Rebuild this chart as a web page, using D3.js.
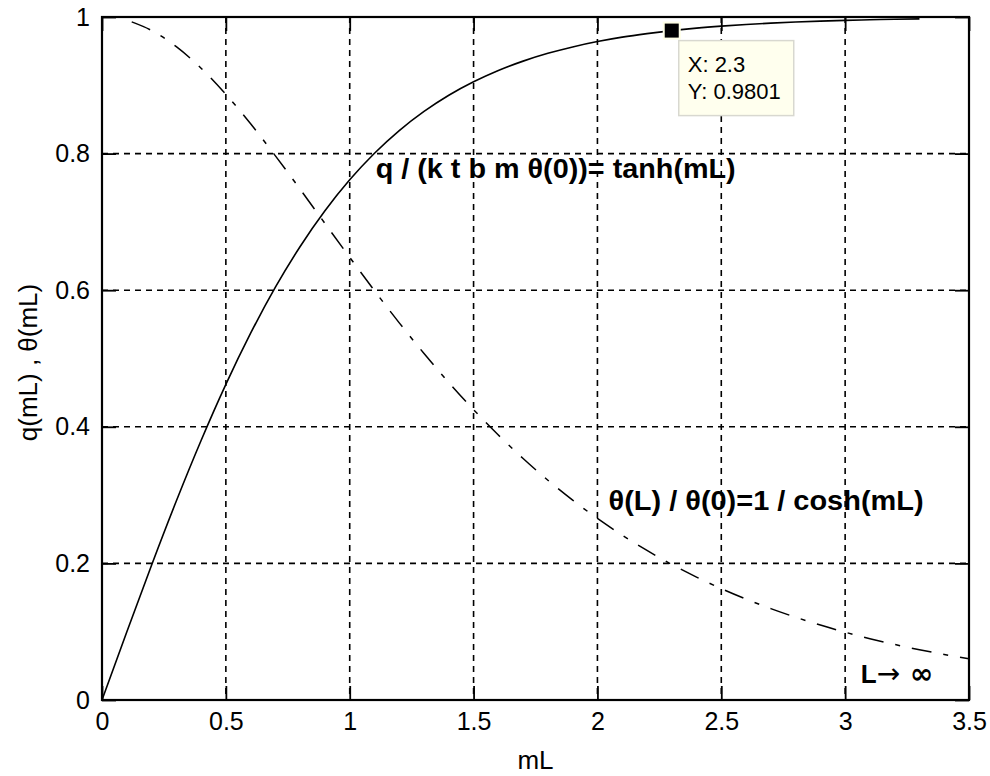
<!DOCTYPE html>
<html>
<head>
<meta charset="utf-8">
<script src="https://cdn.jsdelivr.net/npm/d3@7"></script>
<style>
  body { margin: 0; background: #fff; }
  text { font-family: "Liberation Sans", Arial, sans-serif; fill: #000; }
</style>
</head>
<body>
<script>
// values
var tanhX = [0, 0.1, 0.2, 0.3, 0.4, 0.5, 0.6, 0.7, 0.8, 0.9, 1.0, 1.1, 1.2, 1.3, 1.4, 1.5, 1.6,
    1.7, 1.8, 1.9, 2.0, 2.1, 2.2, 2.3, 2.4, 2.5, 2.6, 2.7, 2.8, 2.9, 3.0, 3.1, 3.2, 3.3];
var tanhY = [0, 0.0997, 0.1974, 0.2913, 0.3799, 0.4621, 0.5370, 0.6044, 0.6640, 0.7163, 0.7616,
    0.8005, 0.8337, 0.8617, 0.8854, 0.9051, 0.9217, 0.9354, 0.9468, 0.9562, 0.9640, 0.9705,
    0.9757, 0.9801, 0.9837, 0.9866, 0.9890, 0.9910, 0.9926, 0.9940, 0.9951, 0.9959, 0.9967, 0.9973];

var sechX = [0.12, 0.2, 0.3, 0.4, 0.5, 0.6, 0.7, 0.8, 0.9, 1.0, 1.1, 1.2, 1.3, 1.4, 1.5, 1.6, 1.7,
    1.8, 1.9, 2.0, 2.1, 2.2, 2.3, 2.4, 2.5, 2.6, 2.7, 2.8, 2.9, 3.0, 3.1, 3.2, 3.3, 3.4, 3.5];
var sechY = [0.9928, 0.9803, 0.9566, 0.9250, 0.8868, 0.8436, 0.7967, 0.7477, 0.6978, 0.6481,
    0.5993, 0.5522, 0.5073, 0.4649, 0.4251, 0.3880, 0.3536, 0.3218, 0.2926, 0.2658, 0.2413,
    0.2190, 0.1985, 0.1800, 0.1631, 0.1477, 0.1338, 0.1212, 0.1097, 0.0993, 0.0898, 0.0813,
    0.0736, 0.0666, 0.0603];

var xTicks = [0, 0.5, 1, 1.5, 2, 2.5, 3, 3.5];
var yTicks = [0, 0.2, 0.4, 0.6, 0.8, 1];

var dataTip = { x: 2.3, y: 0.9801 };

var width = 990, height = 776;
var margin = { left: 102, right: 21, top: 17, bottom: 76 };

var svg = d3.select("body").append("svg")
    .attr("width", width)
    .attr("height", height);

var x = d3.scaleLinear()
    .domain([0, 3.5])
    .range([margin.left, width - margin.right]);

var y = d3.scaleLinear()
    .domain([0, 1])
    .range([height - margin.bottom, margin.top]);

var x0 = x.range()[0], x1 = x.range()[1];
var y0 = y.range()[0], y1 = y.range()[1];

// grid (dashed, black)
var grid = svg.append("g").attr("class", "grid");
grid.selectAll(".gx")
    .data(xTicks.slice(1, -1))
    .enter().append("line")
    .attr("x1", function(d) { return x(d); })
    .attr("x2", function(d) { return x(d); })
    .attr("y1", y1).attr("y2", y0)
    .attr("stroke", "#000")
    .attr("stroke-width", 1.6)
    .attr("stroke-dasharray", "6,5");
grid.selectAll(".gy")
    .data(yTicks.slice(1, -1))
    .enter().append("line")
    .attr("y1", function(d) { return y(d); })
    .attr("y2", function(d) { return y(d); })
    .attr("x1", x0).attr("x2", x1)
    .attr("stroke", "#000")
    .attr("stroke-width", 1.6)
    .attr("stroke-dasharray", "6,5");

// curves
var line = d3.line()
    .x(function(d) { return x(d[0]); })
    .y(function(d) { return y(d[1]); })
    .curve(d3.curveMonotoneX);

svg.append("path")
    .datum(d3.zip(sechX, sechY))
    .attr("d", line)
    .attr("fill", "none")
    .attr("stroke", "#000")
    .attr("stroke-width", 1.5)
    .attr("stroke-dasharray", "20,12,5,12");

svg.append("path")
    .datum(d3.zip(tanhX, tanhY))
    .attr("d", line)
    .attr("fill", "none")
    .attr("stroke", "#000")
    .attr("stroke-width", 1.6);

// axes, MATLAB style: ticks inward on all four sides
var tickLen = 14;
var fontSize = 25;

var xAxisB = d3.axisBottom(x).tickValues(xTicks).tickSizeInner(-tickLen).tickSizeOuter(0).tickPadding(12)
    .tickFormat(d3.format("~g"));
var xAxisT = d3.axisTop(x).tickValues(xTicks).tickSizeInner(-tickLen).tickSizeOuter(0).tickFormat("");
var yAxisL = d3.axisLeft(y).tickValues(yTicks).tickSizeInner(-tickLen).tickSizeOuter(0).tickPadding(12)
    .tickFormat(d3.format("~g"));
var yAxisR = d3.axisRight(y).tickValues(yTicks).tickSizeInner(-tickLen).tickSizeOuter(0).tickFormat("");

function styleAxis(g) {
    g.select(".domain").remove();
    g.selectAll(".tick line").attr("stroke", "#000").attr("stroke-width", 1.8);
    g.selectAll(".tick text")
        .style("font-family", "'Liberation Sans', Arial, sans-serif")
        .style("font-size", fontSize + "px")
        .attr("fill", "#000");
}

svg.append("g").attr("transform", "translate(0," + y0 + ")").call(xAxisB).call(styleAxis);
svg.append("g").attr("transform", "translate(0," + y1 + ")").call(xAxisT).call(styleAxis);
svg.append("g").attr("transform", "translate(" + x0 + ",0)").call(yAxisL).call(styleAxis);
svg.append("g").attr("transform", "translate(" + x1 + ",0)").call(yAxisR).call(styleAxis);

// box
svg.append("rect")
    .attr("x", x0).attr("y", y1)
    .attr("width", x1 - x0).attr("height", y0 - y1)
    .attr("fill", "none")
    .attr("stroke", "#000")
    .attr("stroke-width", 2.2);

// axis labels
svg.append("text")
    .attr("x", (x0 + x1) / 2)
    .attr("y", 769)
    .attr("text-anchor", "middle")
    .style("font-size", "26px")
    .text("mL");

svg.append("text")
    .attr("transform", "translate(37," + ((y0 + y1) / 2 + 4) + ") rotate(-90)")
    .attr("text-anchor", "middle")
    .style("font-size", "26px")
    .text("q(mL) , \u03b8(mL)");

// annotations
var notes = [
    { tx: 1.105, ty: 0.764, label: "q / (k t b m \u03b8(0))= tanh(mL)", len: 360 },
    { tx: 2.045, ty: 0.278, label: "\u03b8(L) / \u03b8(0)=1 / cosh(mL)", len: 315 }
];
svg.selectAll(".note")
    .data(notes)
    .enter().append("text")
    .attr("class", "note")
    .attr("x", function(d) { return x(d.tx); })
    .attr("y", function(d) { return y(d.ty); })
    .attr("textLength", function(d) { return d.len; })
    .attr("lengthAdjust", "spacingAndGlyphs")
    .style("font-size", "27px")
    .style("font-weight", "bold")
    .text(function(d) { return d.label; });

var inf = svg.append("text")
    .attr("x", x(3.063))
    .attr("y", y(0.025))
    .style("font-size", "26px")
    .style("font-weight", "bold");
inf.append("tspan").text("L");
inf.append("tspan").style("font-family", "'DejaVu Sans', sans-serif").style("font-weight", "normal")
    .style("font-size", "28px").text("\u2192");
inf.append("tspan").style("font-family", "'DejaVu Sans', sans-serif").style("font-size", "28px")
    .text(" \u221e");

// data tip
var tip = svg.append("g");
tip.append("rect")
    .attr("x", x(dataTip.x) - 9).attr("y", y(dataTip.y) - 9)
    .attr("width", 18).attr("height", 18)
    .attr("fill", "#ffffe6");
tip.append("rect")
    .attr("x", x(dataTip.x) - 7).attr("y", y(dataTip.y) - 7)
    .attr("width", 14).attr("height", 14)
    .attr("fill", "#000");
tip.append("rect")
    .attr("x", x(dataTip.x) + 7).attr("y", y(dataTip.y) + 10)
    .attr("width", 115).attr("height", 75)
    .attr("fill", "#ffffee")
    .attr("stroke", "#d8d8d0")
    .attr("stroke-width", 1.5);
tip.append("text")
    .attr("x", x(dataTip.x) + 16).attr("y", y(dataTip.y) + 41)
    .style("font-size", "22px")
    .text("X: " + dataTip.x);
tip.append("text")
    .attr("x", x(dataTip.x) + 16).attr("y", y(dataTip.y) + 68)
    .style("font-size", "22px")
    .text("Y: " + dataTip.y);
</script>
</body>
</html>
